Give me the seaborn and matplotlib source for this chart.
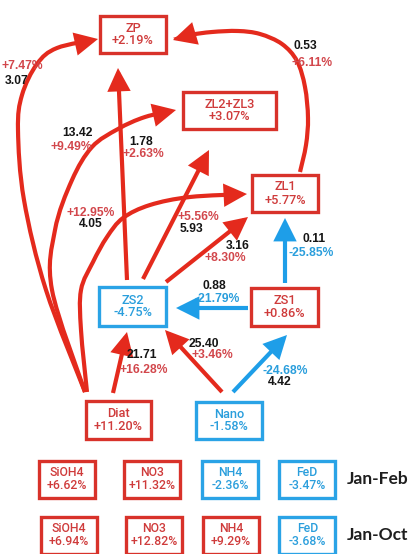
import numpy as np
import matplotlib
matplotlib.use("Agg")
import matplotlib.pyplot as plt
from matplotlib.patches import FancyArrowPatch, Rectangle, ArrowStyle
from matplotlib.path import Path
import seaborn as sns

# Plankton compartments and their relative change (%)
compartments = ["ZP", "ZL2+ZL3", "ZL1", "ZS2", "ZS1", "Diat", "Nano"]
compartment_change = [2.19, 3.07, 5.77, -4.75, 0.86, 11.20, -1.58]

# Grazing fluxes: source, target, flux value and relative change (%)
flux_source = ["Diat", "Diat", "Diat", "ZS2", "ZS2", "ZS2", "ZL1", "ZS1", "ZS1", "Diat", "Nano", "Nano"]
flux_target = ["ZP", "ZL2+ZL3", "ZL1", "ZP", "ZL2+ZL3", "ZL1", "ZP", "ZL1", "ZS2", "ZS2", "ZS2", "ZS1"]
flux_value = [3.07, 13.42, 4.05, 1.78, 5.93, 3.16, 0.53, 0.11, 0.88, 21.71, 25.40, 4.42]
flux_change = [7.47, 9.49, 12.95, 2.63, 5.56, 8.30, 6.11, -25.85, -21.79, 16.28, 3.46, -24.68]

# Nutrient changes (%) for two periods
nutrients = ["SiOH4", "NO3", "NH4", "FeD"]
periods = ["Jan-Feb", "Jan-Oct"]
nutrient_change_janfeb = [6.62, 11.32, -2.36, -3.47]
nutrient_change_janoct = [6.94, 12.82, 9.29, -3.68]

sns.set_theme(style="white")
plt.rcParams["font.family"] = ["Liberation Sans", "DejaVu Sans"]

RED_LINE = "#e42a1d"
RED_BOX = "#d8322a"
RED_TXT = "#cf3b3b"
RED_PCT = "#d2474c"
BLUE_LINE = "#1e9ee8"
BLUE_BOX = "#2aa3e6"
BLUE_TXT = "#2a9edc"


def tone(v, kind):
    pos = v >= 0
    return {"line": RED_LINE if pos else BLUE_LINE,
            "box": RED_BOX if pos else BLUE_BOX,
            "txt": RED_TXT if pos else BLUE_TXT,
            "pct": RED_PCT if pos else BLUE_TXT}[kind]


def pct(v):
    return f"{v:+.2f}%"


def smooth_path(pts):
    """Catmull-Rom spline through the waypoints, as cubic Bezier segments."""
    pts = np.asarray(pts, float)
    P = np.vstack([pts[0], pts, pts[-1]])
    verts = [pts[0]]
    codes = [Path.MOVETO]
    for i in range(1, len(P) - 2):
        p0, p1, p2, p3 = P[i - 1], P[i], P[i + 1], P[i + 2]
        verts += [p1 + (p2 - p0) / 6, p2 - (p3 - p1) / 6, p2]
        codes += [Path.CURVE4] * 3
    return Path(verts, codes)


fig = plt.figure(figsize=(4.10, 5.54), dpi=100)
ax = fig.add_axes([0, 0, 1, 1])
ax.set_xlim(0, 410)
ax.set_ylim(554, 0)
ax.axis("off")

# box centre x, centre y, width, height
box_layout = {
    "ZP": (133, 34.5, 66, 37),
    "ZL2+ZL3": (229.5, 110.5, 93, 37),
    "ZL1": (285, 193.5, 66, 37),
    "ZS2": (132.5, 306.5, 67, 39),
    "ZS1": (284.5, 307, 67, 38),
    "Diat": (118.5, 420, 65, 38),
    "Nano": (229, 420.5, 66, 37),
}

# waypoints of every flux arrow (tail -> head)
flux_route = [
    [(85, 392), (46, 290), (24, 200), (18, 130), (22, 95), (37, 64), (57, 48), (98, 39)],
    [(85, 392), (52, 290), (55, 230), (72, 180), (92, 147), (118, 129), (145, 117), (176, 110)],
    [(87, 392), (81, 330), (81, 290), (93, 262), (107, 237), (123, 218), (150, 205), (190, 197), (247, 194)],
    [(127, 280), (118, 68)],
    [(143, 279), (209, 150)],
    [(166, 282), (248, 217)],
    [(300, 172), (306, 145), (308, 118), (305, 87), (297, 61), (282, 44), (260, 34), (238, 31), (212, 32), (190, 35), (173, 40)],
    [(285, 283), (285, 218)],
    [(248, 308), (176, 308)],
    [(113, 393), (127, 332)],
    [(222, 392), (165, 330)],
    [(233, 392), (287, 335)],
]

# label placement: (x, y, ha) for the flux value and for its change
flux_label = [
    ((5, 81, "left"), (2, 66, "left")),
    ((93, 133, "right"), (92, 147, "right")),
    ((79, 224, "left"), (67, 213, "left")),
    ((129, 142, "left"), (123, 154, "left")),
    ((180, 229, "left"), (178, 217, "left")),
    ((250, 246, "right"), (246, 258, "right")),
    ((294, 46, "left"), (292, 63, "left")),
    ((303, 239, "left"), (289, 253, "left")),
    ((203, 286, "left"), (195, 299, "left")),
    ((127, 355, "left"), (120, 370, "left")),
    ((189, 344, "left"), (192, 355, "left")),
    ((268, 382, "left"), (263, 371, "left")),
]

head = ArrowStyle("-|>", head_length=0.4, head_width=0.2)
for i in range(len(flux_value)):
    col = tone(flux_change[i], "line")
    arr = FancyArrowPatch(path=smooth_path(flux_route[i]), arrowstyle=head,
                          mutation_scale=30, color=col, lw=3.0,
                          capstyle="butt", joinstyle="miter", zorder=2)
    ax.add_patch(arr)
    (vx, vy, vha), (px, py, pha) = flux_label[i]
    ax.text(vx, vy, f"{flux_value[i]:.2f}", ha=vha, va="center", fontsize=8.7,
            fontweight="bold", color="#151515", zorder=5)
    ax.text(px, py, pct(flux_change[i]), ha=pha, va="center", fontsize=8.7,
            fontweight="bold", color=tone(flux_change[i], "pct"), zorder=5)


def draw_box(cx, cy, w, h, name, change, fs=9.2):
    ax.add_patch(Rectangle((cx - w / 2, cy - h / 2), w, h, facecolor="white",
                           edgecolor=tone(change, "box"), lw=2.4, zorder=3))
    c = tone(change, "txt")
    for dy, s in ((-6.5, name), (6.5, pct(change))):
        ax.text(cx, cy + dy, s, ha="center", va="center", fontsize=fs,
                family=["Roboto", "DejaVu Sans"], fontweight="medium",
                color=c, zorder=4)


for name, change in zip(compartments, compartment_change):
    cx, cy, w, h = box_layout[name]
    draw_box(cx, cy, w, h, name, change)

nutrient_x = [[67, 152, 230, 307], [69, 154.5, 231, 307.5]]
row_y = [479, 535]
for r, values in enumerate([nutrient_change_janfeb, nutrient_change_janoct]):
    for j, (nut, v) in enumerate(zip(nutrients, values)):
        draw_box(nutrient_x[r][j], row_y[r], 56, 37, nut, v, fs=8.8)
    ax.text(347, row_y[r], periods[r], ha="left", va="center", fontsize=12.5,
            fontweight="bold", family="Lato", color="#1e1e1e")

fig.savefig("out.png", dpi=100, facecolor="white")
